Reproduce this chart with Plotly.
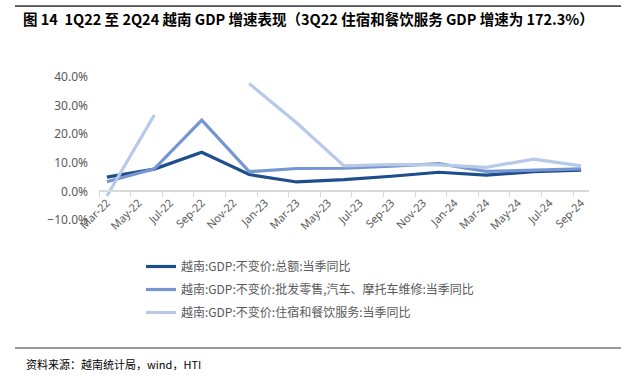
import plotly.graph_objects as go
import pandas as pd

# ---- data ----
quarters = ["2022-03", "2022-06", "2022-09", "2022-12", "2023-03", "2023-06",
            "2023-09", "2023-12", "2024-03", "2024-06", "2024-09"]
total_yoy = [5.0, 7.8, 13.7, 5.9, 3.3, 4.1, 5.3, 6.7, 5.7, 6.9, 7.4]
wholesale_yoy = [3.4, 7.9, 24.9, 6.9, 8.0, 8.1, 8.8, 9.7, 7.0, 7.5, 7.9]
accommodation_yoy = [-1.6, 26.7, 172.3, 37.7, 24.0, 8.9, 9.4, 9.3, 8.4, 11.3, 8.9]
series_names = ["越南:GDP:不变价:总额:当季同比",
                "越南:GDP:不变价:批发零售,汽车、摩托车维修:当季同比",
                "越南:GDP:不变价:住宿和餐饮服务:当季同比"]
tick_labels = ["Mar-22", "May-22", "Jul-22", "Sep-22", "Nov-22", "Jan-23", "Mar-23", "May-23",
               "Jul-23", "Sep-23", "Nov-23", "Jan-24", "Mar-24", "May-24", "Jul-24", "Sep-24"]
y_min, y_max = -10, 40

# ---- layout geometry ----
W, H = 635, 376
L, R, T, B = 99, 46, 77, 156
pw, ph = W - L - R, H - T - B


def px_x(p):
    return (p - L) / pw


def px_y(p):
    return (H - B - p) / ph


start = pd.Period("2022-03", "M")


def month_pos(s):
    return (pd.Period(s, "M") - start).n + 0.5


xs = [month_pos(q) for q in quarters]
tick_pos = [month_pos(pd.to_datetime(t, format="%b-%y").strftime("%Y-%m")) for t in tick_labels]
n_months = (pd.Period(quarters[-1], "M") - start).n + 1

colors = ["#1f4e8c", "#7596d2", "#b7c9e8"]
series = [total_yoy, wholesale_yoy, accommodation_yoy]

fig = go.Figure()
for i, (name, vals, c) in enumerate(zip(series_names, series, colors)):
    shown = [v if y_min <= v <= y_max else None for v in vals]
    fig.add_trace(go.Scatter(
        x=xs, y=shown, mode="lines", name=name,
        line=dict(color=c, width=3.2), connectgaps=False,
        legendgroup=f"g{i}",
    ))

zero_frac = (0 - y_min) / (y_max - y_min)

fig.update_layout(
    width=W, height=H,
    margin=dict(l=L, r=R, t=T, b=B),
    paper_bgcolor="white", plot_bgcolor="white",
    font=dict(family="Noto Sans CJK SC, Noto Sans, sans-serif", color="#595959"),
    showlegend=True,
    legend=dict(x=px_x(141), y=px_y(252), xanchor="left", yanchor="top",
                font=dict(size=12, color="#595959"), tracegroupgap=4,
                traceorder="grouped", bgcolor="rgba(0,0,0,0)"),
    xaxis=dict(
        range=[0, n_months], tickmode="array", tickvals=tick_pos, ticktext=tick_labels,
        tickangle=-45, ticks="", showgrid=False, zeroline=False,
        showline=True, linecolor="#d9d9d9", linewidth=1.5,
        anchor="free", position=zero_frac,
        tickfont=dict(size=11, color="#595959", family="Noto Sans, sans-serif"),
        minor=dict(ticks="outside", tick0=0, dtick=2, ticklen=5, tickcolor="#d9d9d9",
                   tickwidth=1, showgrid=False),
    ),
    yaxis=dict(
        range=[y_min, y_max], dtick=10, tickformat=".1f", ticksuffix="%",
        showgrid=False, zeroline=False, showline=False, ticks="",
        ticklabelstandoff=10,
        tickfont=dict(size=12, color="#595959", family="Noto Sans, sans-serif"),
    ),
    shapes=[
        dict(type="line", xref="paper", yref="paper", x0=px_x(15), x1=px_x(621),
             y0=px_y(6), y1=px_y(6), line=dict(color="#444444", width=1.5)),
        dict(type="line", xref="paper", yref="paper", x0=px_x(15), x1=px_x(621),
             y0=px_y(348), y1=px_y(348), line=dict(color="#333333", width=1)),
    ],
    annotations=[
        dict(text=" ", xref="paper", yref="paper", x=px_x(15), y=px_y(6),
             xanchor="left", yanchor="middle", showarrow=False,
             width=606, height=1, borderpad=0, borderwidth=0, bgcolor="#555555",
             font=dict(size=1)),
        dict(text="<b>图 14  1Q22 至 2Q24 越南 GDP 增速表现（3Q22 住宿和餐饮服务 GDP 增速为 172.3%）</b>",
             xref="paper", yref="paper", x=px_x(21), y=px_y(19), xanchor="left", yanchor="middle",
             showarrow=False, font=dict(size=14.5, color="#000000",
                                        family="Noto Sans CJK SC, sans-serif")),
        dict(text="资料来源：越南统计局，wind，HTI",
             xref="paper", yref="paper", x=px_x(24), y=px_y(364), xanchor="left", yanchor="middle",
             showarrow=False, font=dict(size=11, color="#000000",
                                        family="Noto Sans CJK SC, sans-serif")),
    ],
)

fig.write_html("out.html",
               post_script="document.body.style.margin='0';"
                           "document.documentElement.style.overflow='hidden';",
               config={"displayModeBar": False})
